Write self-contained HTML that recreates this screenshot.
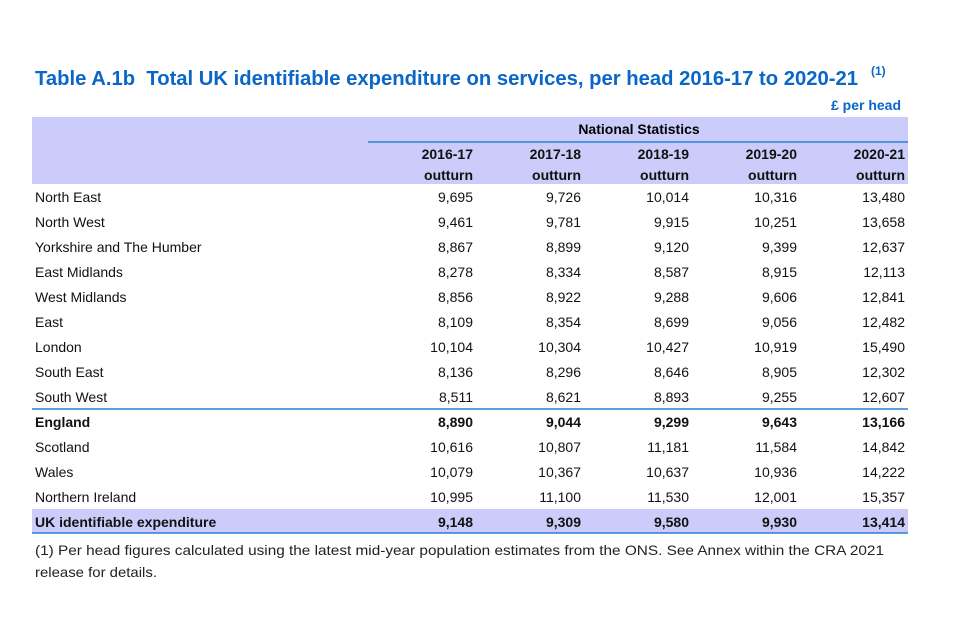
<!DOCTYPE html>
<html><head><meta charset="utf-8"><style>
body{margin:0;background:#fff;width:960px;height:640px;overflow:hidden}
svg{display:block;font-family:"Liberation Sans",sans-serif}
</style></head><body>
<svg id="tbl" width="960" height="640">
<text x="35" y="85" font-size="20" font-weight="bold" fill="#0a66c8" textLength="823" lengthAdjust="spacingAndGlyphs">Table A.1b&#160;&#160;Total UK identifiable expenditure on services, per head 2016-17 to 2020-21</text>
<text x="871" y="75" font-size="12" font-weight="bold" fill="#0a66c8">(1)</text>
<text x="901" y="110" font-size="14" font-weight="bold" fill="#0a66c8" text-anchor="end">£ per head</text>
<rect x="32" y="117" width="876" height="67" fill="#ccccfb"/>
<text x="639" y="134" font-size="14" font-weight="bold" fill="#000" text-anchor="middle">National Statistics</text>
<line x1="368" y1="142" x2="908" y2="142" stroke="#2a7fd4" stroke-width="1.5"/>
<g id="hdr"></g>
<rect x="32" y="509" width="876" height="24" fill="#ccccfb"/>
<line x1="32" y1="409" x2="908" y2="409" stroke="#2a7fd4" stroke-width="1.5"/>
<line x1="32" y1="533" x2="908" y2="533" stroke="#2a7fd4" stroke-width="1.5"/>
<g id="body"></g>
<text x="35" y="555" font-size="14" fill="#222" textLength="849" lengthAdjust="spacingAndGlyphs">(1) Per head figures calculated using the latest mid-year population estimates from the ONS. See Annex within the CRA 2021</text>
<text x="35" y="577" font-size="14" fill="#222" textLength="122" lengthAdjust="spacingAndGlyphs">release for details.</text>
</svg>
<script>
const years = ["2016-17","2017-18","2018-19","2019-20","2020-21"];
const regions = ["North East","North West","Yorkshire and The Humber","East Midlands","West Midlands","East","London","South East","South West","England","Scotland","Wales","Northern Ireland","UK identifiable expenditure"];
const v1617 = [9695,9461,8867,8278,8856,8109,10104,8136,8511,8890,10616,10079,10995,9148];
const v1718 = [9726,9781,8899,8334,8922,8354,10304,8296,8621,9044,10807,10367,11100,9309];
const v1819 = [10014,9915,9120,8587,9288,8699,10427,8646,8893,9299,11181,10637,11530,9580];
const v1920 = [10316,10251,9399,8915,9606,9056,10919,8905,9255,9643,11584,10936,12001,9930];
const v2021 = [13480,13658,12637,12113,12841,12482,15490,12302,12607,13166,14842,14222,15357,13414];
const boldRows = ["England","UK identifiable expenditure"];
const series = [v1617,v1718,v1819,v1920,v2021];
const NS="http://www.w3.org/2000/svg";
const colX = i => 473 + i*108;
const rowY = i => 202 + i*25;
function t(parent,x,y,s,bold,anchor){
  const e=document.createElementNS(NS,"text");
  e.setAttribute("x",x);e.setAttribute("y",y);e.setAttribute("font-size","14");
  e.setAttribute("fill","#111");
  if(bold)e.setAttribute("font-weight","bold");
  if(anchor)e.setAttribute("text-anchor",anchor);
  e.textContent=s;parent.appendChild(e);return e;
}
const hdr=document.getElementById("hdr"), body=document.getElementById("body");
years.forEach((y,i)=>{
  const a=t(hdr,colX(i),159,y,true,"end");
  
  
  const b=t(hdr,colX(i),180,"outturn",true,"end");
  
  
});
regions.forEach((r,j)=>{
  const bold=boldRows.includes(r);
  const l=t(body,35,rowY(j),r,bold,null);
  
  
  series.forEach((s,i)=>{
    const c=t(body,colX(i),rowY(j),s[j].toLocaleString("en-GB"),bold,"end");
    
    
  });
});
</script>
</body></html>
